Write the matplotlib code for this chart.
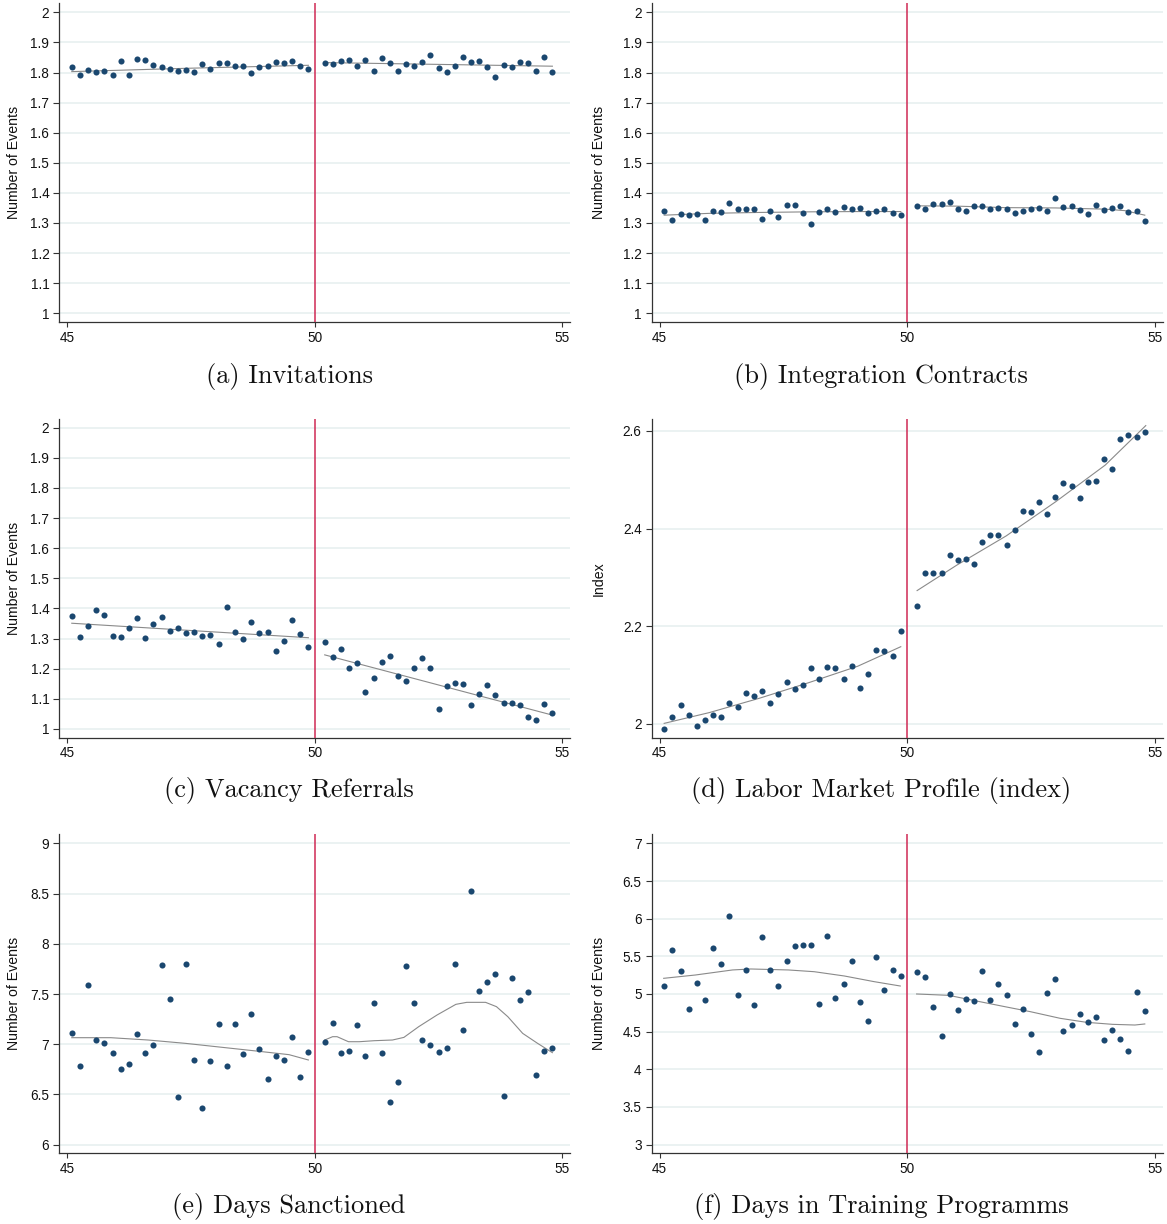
import numpy as np
import matplotlib
matplotlib.use("Agg")
import matplotlib.pyplot as plt
from matplotlib.ticker import FuncFormatter

# ---------------- data ----------------
# age bins (years), left and right of the cutoff at 50
age_left = np.round(np.linspace(45.09, 49.87, 30), 3)
age_right = np.round(np.linspace(50.20, 54.80, 29), 3)
cutoff = 50

# (a) Invitations
inv_left = [1.817, 1.792, 1.809, 1.802, 1.804, 1.793, 1.837, 1.791, 1.846, 1.841,
            1.824, 1.819, 1.812, 1.805, 1.810, 1.801, 1.829, 1.813, 1.831, 1.831,
            1.823, 1.820, 1.799, 1.819, 1.820, 1.834, 1.832, 1.837, 1.820, 1.811]
inv_right = [1.830, 1.827, 1.838, 1.843, 1.822, 1.842, 1.806, 1.847, 1.833, 1.804,
             1.827, 1.821, 1.834, 1.857, 1.815, 1.802, 1.821, 1.852, 1.835, 1.837,
             1.817, 1.785, 1.824, 1.819, 1.836, 1.830, 1.806, 1.853, 1.803]
inv_fit_left_x = [45.09, 47.4, 49.87]
inv_fit_left_y = [1.803, 1.814, 1.824]
inv_fit_right_x = [50.20, 52.5, 54.80]
inv_fit_right_y = [1.833, 1.827, 1.821]

# (b) Integration Contracts
ic_left = [1.340, 1.310, 1.330, 1.327, 1.330, 1.311, 1.341, 1.335, 1.367, 1.348,
           1.346, 1.345, 1.312, 1.340, 1.319, 1.361, 1.361, 1.333, 1.298, 1.335,
           1.347, 1.337, 1.353, 1.347, 1.351, 1.333, 1.341, 1.348, 1.332, 1.326]
ic_right = [1.358, 1.346, 1.364, 1.364, 1.369, 1.347, 1.340, 1.358, 1.358, 1.346,
            1.350, 1.346, 1.333, 1.340, 1.347, 1.351, 1.340, 1.383, 1.353, 1.357,
            1.343, 1.331, 1.361, 1.342, 1.351, 1.355, 1.335, 1.341, 1.308]
ic_fit_left_x = [45.09, 46.0, 47.0, 48.0, 49.0, 49.87]
ic_fit_left_y = [1.326, 1.332, 1.335, 1.337, 1.338, 1.338]
ic_fit_right_x = [50.20, 51.0, 52.0, 53.0, 54.0, 54.4, 54.80]
ic_fit_right_y = [1.357, 1.356, 1.351, 1.350, 1.346, 1.341, 1.326]

# (c) Vacancy Referrals
vr_left = [1.375, 1.304, 1.343, 1.394, 1.379, 1.310, 1.305, 1.335, 1.369, 1.303,
           1.348, 1.371, 1.325, 1.335, 1.320, 1.322, 1.309, 1.311, 1.281, 1.406,
           1.322, 1.298, 1.356, 1.317, 1.323, 1.260, 1.293, 1.361, 1.315, 1.272]
vr_right = [1.288, 1.240, 1.264, 1.203, 1.218, 1.122, 1.169, 1.221, 1.243, 1.176,
            1.159, 1.204, 1.236, 1.204, 1.066, 1.144, 1.154, 1.150, 1.081, 1.117,
            1.147, 1.112, 1.086, 1.087, 1.078, 1.040, 1.029, 1.084, 1.052]
vr_fit_left_x = [45.09, 49.87]
vr_fit_left_y = [1.351, 1.303]
vr_fit_right_x = [50.20, 54.80]
vr_fit_right_y = [1.246, 1.046]

# (d) Labor Market Profile (index)
lm_left = [1.990, 2.014, 2.038, 2.018, 1.995, 2.007, 2.018, 2.013, 2.043, 2.034,
           2.063, 2.057, 2.067, 2.042, 2.061, 2.086, 2.072, 2.080, 2.114, 2.091,
           2.117, 2.115, 2.091, 2.119, 2.073, 2.102, 2.151, 2.149, 2.138, 2.190]
lm_right = [2.241, 2.308, 2.308, 2.308, 2.345, 2.335, 2.338, 2.328, 2.372, 2.386,
            2.387, 2.367, 2.397, 2.436, 2.434, 2.455, 2.430, 2.464, 2.494, 2.487,
            2.462, 2.495, 2.497, 2.543, 2.522, 2.583, 2.591, 2.588, 2.597]
lm_fit_left_x = [45.09, 46.0, 47.0, 48.0, 49.0, 49.87]
lm_fit_left_y = [2.001, 2.023, 2.052, 2.084, 2.118, 2.158]
lm_fit_right_x = [50.20, 51.0, 52.0, 53.0, 54.0, 54.82]
lm_fit_right_y = [2.273, 2.325, 2.385, 2.455, 2.530, 2.611]

# (e) Days Sanctioned
ds_left = [7.108, 6.780, 7.586, 7.045, 7.015, 6.916, 6.750, 6.803, 7.105, 6.912,
           6.992, 7.785, 7.450, 6.478, 7.799, 6.839, 6.365, 6.829, 7.198, 6.780,
           7.201, 6.906, 7.304, 6.955, 6.653, 6.886, 6.843, 7.072, 6.673, 6.919]
ds_right = [7.022, 7.211, 6.916, 6.932, 7.195, 6.879, 7.407, 6.916, 6.421, 6.627,
            7.782, 7.410, 7.042, 6.989, 6.926, 6.962, 7.795, 7.138, 8.529, 7.530,
            7.619, 7.696, 6.484, 7.656, 7.437, 7.520, 6.693, 6.929, 6.959]
ds_fit_left_x = [45.09, 45.88, 46.63, 47.38, 48.13, 48.88, 49.48, 49.87]
ds_fit_left_y = [7.065, 7.065, 7.042, 7.009, 6.969, 6.929, 6.896, 6.843]
ds_fit_right_x = [50.20, 50.36, 50.45, 50.68, 50.90, 51.20, 51.57, 51.80, 52.10,
                  52.47, 52.85, 53.07, 53.45, 53.67, 53.90, 54.20, 54.50, 54.80]
ds_fit_right_y = [7.042, 7.075, 7.075, 7.025, 7.025, 7.035, 7.042, 7.068, 7.175,
                  7.291, 7.397, 7.417, 7.417, 7.374, 7.274, 7.108, 7.009, 6.916]

# (f) Days in Training Programms
dt_left = [5.106, 5.588, 5.305, 4.801, 5.150, 4.916, 5.611, 5.403, 6.040, 4.991,
           5.323, 4.854, 5.757, 5.323, 5.111, 5.434, 5.633, 5.655, 5.646, 4.872,
           5.774, 4.947, 5.137, 5.434, 4.894, 4.642, 5.496, 5.049, 5.319, 5.239]
dt_right = [5.288, 5.221, 4.832, 4.447, 4.996, 4.783, 4.929, 4.912, 5.305, 4.916,
            5.137, 4.987, 4.606, 4.801, 4.465, 4.226, 5.018, 5.199, 4.509, 4.593,
            4.730, 4.633, 4.695, 4.389, 4.522, 4.407, 4.243, 5.022, 4.770]
dt_fit_left_x = [45.08, 45.72, 46.47, 46.84, 47.60, 48.12, 48.73, 49.33, 49.86]
dt_fit_left_y = [5.208, 5.252, 5.319, 5.332, 5.319, 5.296, 5.239, 5.164, 5.106]
dt_fit_right_x = [50.19, 50.84, 51.36, 51.97, 52.49, 53.09, 53.62, 54.15, 54.60, 54.80]
dt_fit_right_y = [5.000, 4.982, 4.912, 4.832, 4.765, 4.677, 4.624, 4.597, 4.588, 4.602]

captions = ["(a) Invitations", "(b) Integration Contracts", "(c) Vacancy Referrals",
            "(d) Labor Market Profile (index)", "(e) Days Sanctioned",
            "(f) Days in Training Programms"]
ylabels = ["Number of Events", "Number of Events", "Number of Events", "Index",
           "Number of Events", "Number of Events"]
xticks = [45, 50, 55]
yticks_events = [1, 1.1, 1.2, 1.3, 1.4, 1.5, 1.6, 1.7, 1.8, 1.9, 2]
yticks_index = [2, 2.2, 2.4, 2.6]
yticks_sanct = [6, 6.5, 7, 7.5, 8, 8.5, 9]
yticks_train = [3, 3.5, 4, 4.5, 5, 5.5, 6, 6.5, 7]

panels = [
    (inv_left, inv_right, inv_fit_left_x, inv_fit_left_y, inv_fit_right_x, inv_fit_right_y,
     yticks_events, (0.970, 2.030)),
    (ic_left, ic_right, ic_fit_left_x, ic_fit_left_y, ic_fit_right_x, ic_fit_right_y,
     yticks_events, (0.970, 2.030)),
    (vr_left, vr_right, vr_fit_left_x, vr_fit_left_y, vr_fit_right_x, vr_fit_right_y,
     yticks_events, (0.970, 2.029)),
    (lm_left, lm_right, lm_fit_left_x, lm_fit_left_y, lm_fit_right_x, lm_fit_right_y,
     yticks_index, (1.971, 2.6245)),
    (ds_left, ds_right, ds_fit_left_x, ds_fit_left_y, ds_fit_right_x, ds_fit_right_y,
     yticks_sanct, (5.914, 9.09)),
    (dt_left, dt_right, dt_fit_left_x, dt_fit_left_y, dt_fit_right_x, dt_fit_right_y,
     yticks_train, (2.885, 7.12)),
]

# ---------------- style ----------------
W, H = 1167, 1224
fig = plt.figure(figsize=(W / 100, H / 100), dpi=100)
fig.patch.set_facecolor("white")

NAVY = "#1a476f"
RED = "#d02a55"
GRID = "#e6efef"
SPINE = "#333333"
FIT = "#8a8a8a"
SANS = "Liberation Sans"

col_left = [59.3, 651.7]
ax_w = 511.0
row_top = [3.3, 419.0, 834.3]
ax_h = 319.0
cap_x = [289, 881]
cap_y = [376, 791, 1207]

fmt = FuncFormatter(lambda v, p: ("%g" % round(v, 3)))

for i, (yl, yr, flx, fly, frx, fry, yt, ylim) in enumerate(panels):
    r, c = divmod(i, 2)
    ax = fig.add_axes([col_left[c] / W, 1 - (row_top[r] + ax_h) / H, ax_w / W, ax_h / H])
    ax.set_xlim(44.838, 55.162)
    ax.set_ylim(*ylim)
    ax.set_yticks(yt)
    ax.set_xticks(xticks)
    ax.yaxis.set_major_formatter(fmt)
    ax.xaxis.set_major_formatter(fmt)
    for yv in yt:
        ax.axhline(yv, color=GRID, lw=1.1, zorder=0)
    for s in ["top", "right"]:
        ax.spines[s].set_visible(False)
    for s in ["left", "bottom"]:
        ax.spines[s].set_color(SPINE)
        ax.spines[s].set_linewidth(0.9)
    ax.tick_params(axis="y", length=4.0, width=0.8, color=SPINE, pad=3.2,
                   labelsize=9.8, labelcolor="#111111")
    ax.tick_params(axis="x", length=3.5, width=0.8, color=SPINE, pad=2.5,
                   labelsize=9.8, labelcolor="#111111")
    for lab in ax.get_xticklabels() + ax.get_yticklabels():
        lab.set_fontfamily(SANS)
    ax.axvline(cutoff, color=RED, lw=1.1, zorder=3)
    ax.plot(flx, fly, color=FIT, lw=0.8, zorder=4)
    ax.plot(frx, fry, color=FIT, lw=0.8, zorder=4)
    ax.plot(age_left, yl, "o", color=NAVY, ms=4.4, mew=0, zorder=5)
    ax.plot(age_right, yr, "o", color=NAVY, ms=4.4, mew=0, zorder=5)
    lab_x = (14 - col_left[c] + (0 if c == 0 else 585)) / ax_w
    ax.text(lab_x, 0.5, ylabels[i], transform=ax.transAxes, rotation=90,
            ha="center", va="center", fontsize=10.2, family=SANS, color="#111111")
    fig.text(cap_x[c] / W, 1 - cap_y[r] / H, captions[i], ha="center", va="center",
             fontsize=19, family="cmr10", color="#111111")

fig.savefig("out.png", dpi=100, facecolor="white")
